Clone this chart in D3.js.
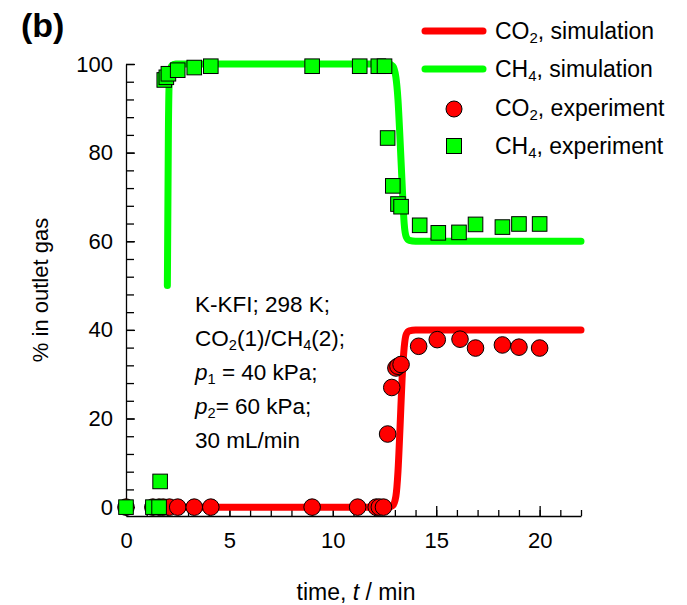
<!DOCTYPE html>
<html>
<head>
<meta charset="utf-8">
<script src="https://cdn.jsdelivr.net/npm/d3@7"></script>
<style>
  body { margin: 0; background: #fff; }
  text { font-family: Arial, "Liberation Sans", sans-serif; fill: #000; }
</style>
</head>
<body>
<div class="chart"></div>
<script>
var svgWidth = 687;
var svgHeight = 605;

// experimental points
var co2ExpT = [0, 1.3, 1.6, 1.8, 2.1, 2.5, 3.3, 4.1, 9.0, 11.2, 12.1, 12.25, 12.45, 12.65, 12.85, 13.05, 13.15, 13.3, 14.15, 15.05, 16.15, 16.9, 18.2, 19.0, 20.0];
var co2ExpV = [0, 0, 0, 0, 0, 0, 0, 0, 0, 0, 0, 0, 0, 16.5, 27, 31.4, 31.8, 32.2, 36.3, 37.8, 37.9, 35.9, 36.6, 36.1, 35.9];

var ch4ExpT = [0, 1.3, 1.6, 1.65, 1.85, 1.95, 2.05, 2.5, 3.3, 4.1, 9.0, 11.3, 12.2, 12.5, 12.65, 12.9, 13.15, 13.3, 14.2, 15.1, 16.1, 16.9, 18.2, 19.0, 20.0];
var ch4ExpV = [0, 0, 0, 5.8, 96.4, 97.0, 97.8, 98.6, 99.2, 99.5, 99.5, 99.5, 99.5, 99.5, 83.3, 72.5, 68.4, 67.8, 63.6, 61.9, 62.0, 63.8, 63.2, 63.9, 63.9];

// simulation curves
var simT   = [2.0, 2.05, 2.1, 2.2, 2.4, 12.7, 12.9, 13.05, 13.15, 13.25, 13.35, 13.45, 13.55, 13.7, 14.0, 22.0];
var simCH4 = [50, 85, 97, 99.5, 100, 100, 99.5, 97, 92, 83, 73, 64, 61, 60.2, 60, 60];
var simCO2 = [0, 0, 0, 0, 0, 0, 0.4, 2.5, 8, 18, 29, 36, 39, 39.8, 40, 40];

var xMajor = [0, 5, 10, 15, 20];
var yMajor = [0, 20, 40, 60, 80, 100];

var red = "#ff0000";
var green = "#00ff00";

var svg = d3.select(".chart")
  .append("svg")
  .attr("width", svgWidth)
  .attr("height", svgHeight);

var x = d3.scaleLinear().domain([0, 22]).range([126, 581]);
var y = d3.scaleLinear().domain([-2, 100]).range([516, 64]);

// axes, ticks pointing inward
svg.append("g")
  .attr("transform", "translate(0,516)")
  .call(d3.axisBottom(x).tickValues(d3.range(0, 23)).tickSize(-6).tickSizeOuter(0).tickFormat(""))
  .call(g => g.select(".domain").remove());
svg.append("g")
  .attr("class", "xaxis")
  .attr("transform", "translate(0,516)")
  .call(d3.axisBottom(x).tickValues(xMajor).tickSize(-10).tickSizeOuter(0).tickPadding(16));

svg.append("g")
  .attr("transform", "translate(126,0)")
  .call(d3.axisLeft(y).tickValues(d3.range(0, 101, 4)).tickSize(-8).tickSizeOuter(0).tickFormat(""))
  .call(g => g.select(".domain").remove());
svg.append("g")
  .attr("class", "yaxis")
  .attr("transform", "translate(126,0)")
  .call(d3.axisLeft(y).tickValues(yMajor).tickSize(-9).tickSizeOuter(0).tickPadding(13));

svg.selectAll(".tick text").attr("font-size", "22px").attr("font-family", "Arial, 'Liberation Sans', sans-serif");
svg.selectAll(".domain, .tick line").attr("stroke", "#000").attr("stroke-width", 1.3);

// simulation lines
var line = d3.line().curve(d3.curveMonotoneX);
svg.append("path")
  .attr("d", line(simT.map((t, i) => [x(t), y(simCO2[i])])))
  .attr("fill", "none").attr("stroke", red).attr("stroke-width", 7)
  .attr("stroke-linecap", "round").attr("stroke-linejoin", "round");
svg.append("path")
  .attr("d", line(simT.map((t, i) => [x(t), y(simCH4[i])])))
  .attr("fill", "none").attr("stroke", green).attr("stroke-width", 7)
  .attr("stroke-linecap", "round").attr("stroke-linejoin", "round");

// experiment markers
svg.append("g").selectAll("circle")
  .data(co2ExpT)
  .enter()
  .append("circle")
  .attr("cx", d => x(d))
  .attr("cy", (d, i) => y(co2ExpV[i]))
  .attr("r", 8.3)
  .attr("fill", red)
  .attr("stroke", "#000")
  .attr("stroke-width", 1);

svg.append("g").selectAll("rect")
  .data(ch4ExpT)
  .enter()
  .append("rect")
  .attr("x", d => x(d) - 7.3)
  .attr("y", (d, i) => y(ch4ExpV[i]) - 7.3)
  .attr("width", 14.6)
  .attr("height", 14.6)
  .attr("fill", green)
  .attr("stroke", "#000")
  .attr("stroke-width", 1);

// text with subscripts: parts = [text, isSub, italic]
function addText(px, py, size, parts) {
  var t = svg.append("text").attr("x", px).attr("y", py).attr("font-size", size);
  var prevSub = false;
  parts.forEach(function(p) {
    var ts = t.append("tspan").text(p[0]);
    if (p[2]) ts.attr("font-style", "italic");
    if (p[1]) {
      ts.attr("font-size", "0.65em").attr("dy", "0.3em");
      prevSub = true;
    } else if (prevSub) {
      ts.attr("dy", "-0.195em");
      prevSub = false;
    }
  });
  return t;
}

// title
svg.append("text").attr("x", 21).attr("y", 37)
  .attr("font-size", "34px").attr("font-weight", "bold").text("(b)");

// legend
svg.append("line").attr("x1", 425).attr("x2", 483).attr("y1", 31).attr("y2", 31)
  .attr("stroke", red).attr("stroke-width", 7).attr("stroke-linecap", "round");
svg.append("line").attr("x1", 425).attr("x2", 483).attr("y1", 69).attr("y2", 69)
  .attr("stroke", green).attr("stroke-width", 7).attr("stroke-linecap", "round");
svg.append("circle").attr("cx", 454).attr("cy", 109).attr("r", 8)
  .attr("fill", red).attr("stroke", "#000");
svg.append("rect").attr("x", 446.5).attr("y", 138.5).attr("width", 15).attr("height", 15)
  .attr("fill", green).attr("stroke", "#000");

addText(495, 39, "23px", [["CO"], ["2", true], [", simulation"]]);
addText(495, 77, "23px", [["CH"], ["4", true], [", simulation"]]);
addText(495, 116, "23px", [["CO"], ["2", true], [", experiment"]]);
addText(495, 154, "23px", [["CH"], ["4", true], [", experiment"]]);

// annotation
addText(195, 312, "22.5px", [["K-KFI; 298 K;"]]);
addText(195, 346, "22.5px", [["CO"], ["2", true], ["(1)/CH"], ["4", true], ["(2);"]]);
addText(195, 380, "22.5px", [["p", false, true], ["1", true], [" = 40 kPa;"]]);
addText(195, 414, "22.5px", [["p", false, true], ["2", true], ["= 60 kPa;"]]);
addText(195, 448, "22.5px", [["30 mL/min"]]);

// axis labels
addText(356, 600, "23px", [["time, "], ["t", false, true], [" / min"]]).attr("text-anchor", "middle");
svg.append("text")
  .attr("transform", "translate(48,290) rotate(-90)")
  .attr("text-anchor", "middle")
  .attr("font-size", "22px")
  .text("% in outlet gas");
</script>
</body>
</html>
